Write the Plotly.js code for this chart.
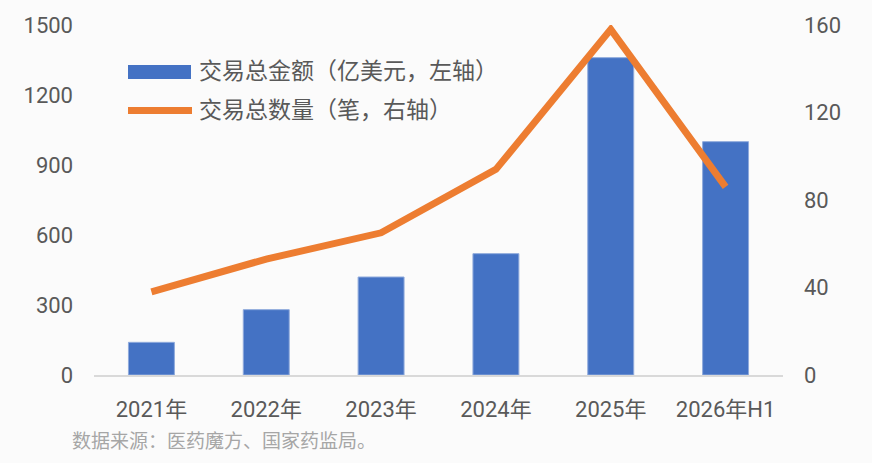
<!DOCTYPE html>
<html>
<head>
<meta charset="utf-8">
<script src="https://cdn.plot.ly/plotly-3.0.1.min.js"></script>
<style>
  html, body { margin: 0; padding: 0; background: #fbfbfb; }
  #chart { width: 872px; height: 463px; }
</style>
</head>
<body>
<div id="chart"></div>
<script>
// data
var years = ['2021年', '2022年', '2023年', '2024年', '2025年', '2026年H1'];
var amount = [140, 280, 420, 520, 1360, 1000];   // 交易总金额 (亿美元, 左轴)
var count = [38, 53, 65, 94, 158, 86];           // 交易总数量 (笔, 右轴)
var leftTicks = [0, 300, 600, 900, 1200, 1500];
var rightTicks = [0, 40, 80, 120, 160];

var amountName = '交易总金额（亿美元，左轴）';
var countName = '交易总数量（笔，右轴）';
var sourceText = '数据来源：医药魔方、国家药监局。';

var font = 'Roboto, "Noto Sans CJK SC", sans-serif';

var barTrace = {
  x: years,
  y: amount,
  type: 'bar',
  name: amountName,
  marker: { color: '#4472C4', line: { color: '#8FAADC', width: 1 } },
  hoverinfo: 'x+y'
};

var lineTrace = {
  x: years,
  y: count,
  type: 'scatter',
  mode: 'lines',
  name: countName,
  yaxis: 'y2',
  line: { color: '#ED7D31', width: 7 },
  hoverinfo: 'x+y'
};

var layout = {
  width: 872,
  height: 463,
  paper_bgcolor: '#fbfbfb',
  plot_bgcolor: '#fbfbfb',
  margin: { l: 94, r: 89, t: 25, b: 88 },
  showlegend: false,
  bargap: 0.6,
  font: { family: font, color: '#595959', size: 22 },
  xaxis: {
    type: 'category',
    showline: true,
    linecolor: '#d9d9d9',
    linewidth: 2,
    ticks: '',
    showgrid: false,
    tickfont: { size: 22, color: '#595959' },
    ticklabelstandoff: 14
  },
  yaxis: {
    range: [0, 1500],
    tickvals: leftTicks,
    showgrid: false,
    zeroline: false,
    showline: false,
    ticks: '',
    ticklabelstandoff: 20,
    tickfont: { size: 22, color: '#595959' }
  },
  yaxis2: {
    range: [0, 160],
    tickvals: rightTicks,
    overlaying: 'y',
    side: 'right',
    showgrid: false,
    zeroline: false,
    showline: false,
    ticks: '',
    ticklabelstandoff: 20,
    tickfont: { size: 22, color: '#595959' }
  },
  shapes: [
    // legend symbols
    { type: 'rect', xref: 'paper', yref: 'paper',
      x0: (128 - 94) / 689, x1: (191 - 94) / 689,
      y0: (375 - 79) / 350, y1: (375 - 65) / 350,
      fillcolor: '#4472C4', line: { width: 0 } },
    { type: 'line', xref: 'paper', yref: 'paper',
      x0: (128 - 94) / 689, x1: (192 - 94) / 689,
      y0: (375 - 110.5) / 350, y1: (375 - 110.5) / 350,
      line: { color: '#ED7D31', width: 7 } }
  ],
  annotations: [
    { xref: 'paper', yref: 'paper', x: (197 - 94) / 689, y: (375 - 72) / 350,
      xanchor: 'left', yanchor: 'middle', showarrow: false,
      text: amountName, font: { size: 23, color: '#595959' } },
    { xref: 'paper', yref: 'paper', x: (197 - 94) / 689, y: (375 - 110) / 350,
      xanchor: 'left', yanchor: 'middle', showarrow: false,
      text: countName, font: { size: 23, color: '#595959' } },
    { xref: 'paper', yref: 'paper', x: (70 - 94) / 689, y: (375 - 441) / 350,
      xanchor: 'left', yanchor: 'middle', showarrow: false,
      text: sourceText, font: { size: 19, color: '#a6a6a6' } }
  ]
};

Plotly.newPlot('chart', [barTrace, lineTrace], layout, { displayModeBar: false, staticPlot: true });
</script>
</body>
</html>
